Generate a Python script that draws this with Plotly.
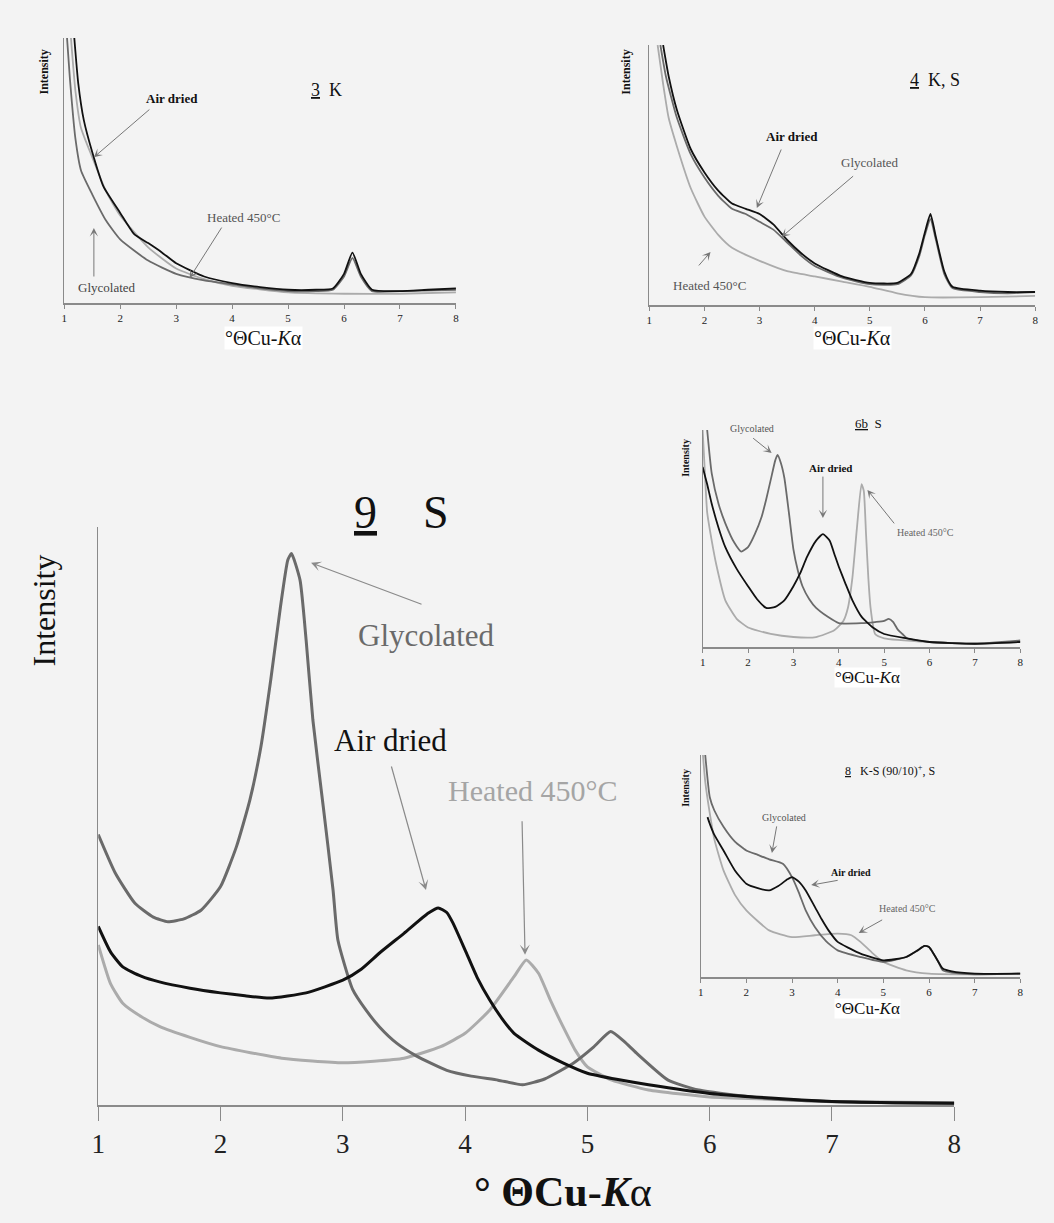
import plotly.graph_objects as go

# ---------------- data (x in degrees theta, y in relative intensity, 0-100 of axis height) ----------------
# Panel 3 (K)
p3_air_x = [1.18, 1.25, 1.35, 1.5, 1.7, 2.0, 2.25, 2.5, 2.75, 3.0, 3.5, 4.0, 4.5, 5.0, 5.5, 5.8, 6.0, 6.15, 6.3, 6.5, 7.0, 7.5, 8.0]
p3_air_y = [100, 83, 69, 57, 44, 34, 26, 22.6, 19, 15, 10, 7.5, 6, 5, 5, 5.5, 11, 19, 11, 5, 4.5, 5, 5.5]
p3_gly_x = [1.05, 1.1, 1.2, 1.3, 1.5, 1.75, 2.0, 2.5, 3.0, 3.5, 4.0, 4.5, 5.0, 5.5, 5.8, 6.0, 6.15, 6.3, 6.5, 7.0, 8.0]
p3_gly_y = [100, 85, 62, 50, 41, 31, 24, 16, 11, 8.5, 7, 5.5, 4.5, 4.5, 5, 10, 17, 10, 4.5, 4.5, 5]
p3_hea_x = [1.12, 1.2, 1.3, 1.5, 1.75, 2.0, 2.5, 3.0, 3.5, 4.0, 5.0, 6.0, 7.0, 8.0]
p3_hea_y = [100, 80, 66, 55, 42, 33, 21, 13, 9, 6.5, 4, 3.5, 3.5, 4]

# Panel 4 (K, S)
p4_air_x = [1.25, 1.35, 1.5, 1.75, 2.0, 2.25, 2.5, 2.75, 3.0, 3.25, 3.5, 3.75, 4.0, 4.5, 5.0, 5.5, 5.75, 5.9, 6.0, 6.1, 6.2, 6.35, 6.5, 7.0, 7.5, 8.0]
p4_air_y = [100, 88, 75, 60, 51, 44, 39, 37, 35, 31, 25, 20, 16, 11, 8.5, 8.5, 12, 20, 28, 35, 26, 13, 7, 5.5, 5, 5]
p4_gly_x = [1.2, 1.3, 1.5, 1.75, 2.0, 2.25, 2.5, 2.75, 3.0, 3.25, 3.5, 3.75, 4.0, 4.5, 5.0, 5.5, 5.75, 5.9, 6.0, 6.1, 6.2, 6.35, 6.5, 7.0, 7.5, 8.0]
p4_gly_y = [100, 88, 72, 58, 49, 42, 37, 35, 32, 29, 24, 19, 15, 10.5, 8, 8, 11.5, 19, 27, 33, 25, 12, 6.5, 5, 4.5, 5]
p4_hea_x = [1.15, 1.25, 1.35, 1.5, 1.75, 2.0, 2.25, 2.5, 3.0, 3.5, 4.0, 4.5, 5.0, 5.5, 6.0, 7.0, 8.0]
p4_hea_y = [100, 85, 72, 61, 45, 34, 27, 22, 17, 13, 11, 9, 7, 4.5, 3, 3, 3.5]

# Panel 6b (S)
p6_gly_x = [1.1, 1.2, 1.35, 1.5, 1.7, 1.85, 2.0, 2.15, 2.3, 2.4, 2.5, 2.6, 2.65, 2.72, 2.8, 2.9, 3.0, 3.1, 3.2, 3.35, 3.5, 3.75, 4.0, 4.5, 4.8, 5.0, 5.1, 5.2, 5.3, 5.4, 5.5, 6.0, 7.0, 8.0]
p6_gly_y = [100, 80, 66, 57, 48, 44, 46, 52, 60, 68, 77, 86, 88.5, 85, 78, 62, 45, 35, 28, 22, 18, 14, 11, 11, 11.5, 12, 13, 11.5, 8, 6, 4, 2.3, 1.5, 3]
p6_air_x = [1.0, 1.1, 1.2, 1.35, 1.5, 1.75, 2.0, 2.2, 2.4, 2.6, 2.8, 3.0, 3.15, 3.3, 3.5, 3.65, 3.8, 3.9, 4.0, 4.15, 4.3, 4.5, 4.75, 5.0, 5.5, 6.0, 7.0, 8.0]
p6_air_y = [83, 75, 66, 55, 46, 36, 28, 22, 18, 18.5, 21.5, 28, 34, 41.5, 49, 52, 49, 43, 37, 29, 21.5, 14, 9, 6, 4, 2.3, 1.5, 2.3]
p6_hea_x = [1.0, 1.05, 1.1, 1.2, 1.3, 1.5, 1.75, 2.0, 2.5, 3.0, 3.5, 3.9, 4.1, 4.2, 4.3, 4.4, 4.5, 4.55, 4.6, 4.65, 4.7, 4.8, 5.0, 6.0, 7.0, 8.0]
p6_hea_y = [100, 80, 62, 49, 38, 21.5, 13, 9, 6, 4.6, 4.6, 7.7, 12, 18, 32, 55, 75, 72, 52, 32, 18, 6, 4, 2.3, 1.5, 2.3]

# Panel 8 (K-S (90/10)+, S)
p8_air_x = [1.15, 1.2, 1.3, 1.5, 1.75, 2.0, 2.25, 2.5, 2.7, 2.9, 3.0, 3.15, 3.3, 3.5, 3.65, 3.8, 4.0, 4.25, 4.5, 5.0, 5.25, 5.5, 5.75, 5.9, 6.0, 6.1, 6.2, 6.3, 6.5, 7.0, 8.0]
p8_air_y = [72, 69, 64, 57, 48, 42, 40, 39, 41, 44, 45, 43, 39, 31.6, 26, 21, 15.8, 13, 10.5, 7.5, 8, 9, 12, 14, 13.5, 10.5, 7, 3.8, 2.5, 1.5, 1.5]
p8_gly_x = [1.1, 1.2, 1.3, 1.5, 1.75, 2.0, 2.25, 2.5, 2.8, 3.0, 3.15, 3.3, 3.5, 3.75, 4.0, 4.5, 5.0, 5.5, 5.75, 5.9, 6.0, 6.1, 6.2, 6.3, 6.5, 7.0, 8.0]
p8_gly_y = [100, 81, 75, 67.7, 61, 57, 55, 53, 51, 45, 38, 30, 22.5, 16, 12, 9, 6.8, 9, 12, 14, 13.5, 10.5, 7, 3, 2, 1.2, 1.5]
p8_hea_x = [1.05, 1.1, 1.2, 1.3, 1.5, 1.75, 2.0, 2.5, 3.0, 3.5, 4.0, 4.3, 4.5, 4.75, 5.0, 5.5, 6.0, 7.0, 8.0]
p8_hea_y = [100, 88, 73.7, 62, 48, 37, 30, 21, 18, 18.8, 19.5, 18.8, 15.8, 11, 6.8, 3, 1.5, 1.2, 1.5]

# Panel 9 (S)
p9_gly_x = [1.0, 1.14, 1.3, 1.45, 1.57, 1.7, 1.84, 2.0, 2.13, 2.24, 2.33, 2.41, 2.49, 2.55, 2.58, 2.65, 2.70, 2.755, 2.84, 2.92, 2.96, 3.08, 3.19, 3.3, 3.44, 3.6, 3.85, 4.05, 4.27, 4.47, 4.65, 4.89, 5.05, 5.19, 5.3, 5.4, 5.66, 5.91, 6.43, 6.95, 7.5, 8.0]
p9_gly_y = [46.8, 40.1, 34.9, 32.5, 31.7, 32.2, 33.7, 37.8, 44.7, 52.8, 62, 73.5, 86.2, 94.3, 95.4, 90.8, 80.4, 66.6, 51.6, 37.2, 28.5, 20, 16.4, 13.5, 10.7, 8.5, 6, 5, 4.3, 3.5, 4.5, 7.3, 10, 12.7, 11, 9, 4.3, 2.6, 1.2, 0.6, 0.4, 0.3]
p9_air_x = [1.0, 1.1, 1.2, 1.35, 1.5, 1.75, 2.0, 2.2, 2.4, 2.7, 3.0, 3.15, 3.3, 3.5, 3.7, 3.78, 3.85, 3.9, 4.0, 4.1, 4.2, 4.3, 4.4, 4.6, 4.8, 5.0, 5.25, 5.5, 6.0, 6.5, 7.0, 7.5, 8.0]
p9_air_y = [30.9, 26.5, 23.9, 22.3, 21.3, 20.2, 19.4, 18.9, 18.5, 19.4, 21.6, 23.5, 26.3, 29.7, 33.2, 34.1, 33.3, 31.5, 26.8, 22, 18.2, 15, 12.4, 9.5, 7.3, 5.5, 4.4, 3.5, 2, 1.2, 0.6, 0.4, 0.3]
p9_hea_x = [1.0, 1.1, 1.2, 1.35, 1.5, 1.75, 2.0, 2.5, 3.0, 3.5, 3.8, 4.0, 4.2, 4.4, 4.5, 4.6, 4.7, 4.8, 4.9, 5.0, 5.2, 5.5, 6.0, 6.5, 7.0, 8.0]
p9_hea_y = [27.7, 21, 17.6, 15.3, 13.6, 11.7, 10.1, 8.1, 7.3, 8.1, 10.1, 12.4, 16.4, 22.2, 25.1, 22.8, 18, 13.6, 9.5, 6.6, 4.3, 2.6, 1.4, 1, 0.6, 0.4]

tick_vals = [1, 2, 3, 4, 5, 6, 7, 8]
tick_text = ["1", "2", "3", "4", "5", "6", "7", "8"]

C_AIR = "#111111"
C_GLY = "#6a6a6a"
C_HEA = "#ababab"

W, H = 1054, 1223
SERIF = "Liberation Serif"

def px(x):
    return x / W

def py(y):
    return 1 - y / H

# panel pixel boxes: (left, right, top, bottom)
panels = {
    "3": (58, 455, 38, 303),
    "4": (651, 1042, 45, 305),
    "6": (705, 1027, 430, 647),
    "8": (703, 1027, 755, 977),
    "9": (92.5, 960, 527, 1105),
}
order = ["3", "4", "6", "8", "9"]

fig = go.Figure()

series = {
    "3": [(p3_hea_x, p3_hea_y, C_HEA), (p3_gly_x, p3_gly_y, C_GLY), (p3_air_x, p3_air_y, C_AIR)],
    "4": [(p4_hea_x, p4_hea_y, C_HEA), (p4_gly_x, p4_gly_y, C_GLY), (p4_air_x, p4_air_y, C_AIR)],
    "6": [(p6_hea_x, p6_hea_y, C_HEA), (p6_gly_x, p6_gly_y, C_GLY), (p6_air_x, p6_air_y, C_AIR)],
    "8": [(p8_hea_x, p8_hea_y, C_HEA), (p8_gly_x, p8_gly_y, C_GLY), (p8_air_x, p8_air_y, C_AIR)],
    "9": [(p9_hea_x, p9_hea_y, C_HEA), (p9_gly_x, p9_gly_y, C_GLY), (p9_air_x, p9_air_y, C_AIR)],
}

layout_axes = {}
for i, key in enumerate(order, start=1):
    l, r, t, b = panels[key]
    xa = "xaxis" if i == 1 else f"xaxis{i}"
    ya = "yaxis" if i == 1 else f"yaxis{i}"
    xr = "x" if i == 1 else f"x{i}"
    yr = "y" if i == 1 else f"y{i}"
    big = key == "9"
    lw = 3 if big else 1.8
    for sx, sy, col in series[key]:
        fig.add_trace(go.Scatter(x=sx, y=sy, mode="lines", xaxis=xr, yaxis=yr,
                                 line=dict(color=col, width=lw, shape="spline", smoothing=0.5),
                                 showlegend=False, hoverinfo="skip"))
    layout_axes[xa] = dict(domain=[px(l), px(r)], anchor=yr, range=[1, 8],
                           tickvals=tick_vals, ticktext=tick_text,
                           showline=True, linecolor="#8a8a8a", linewidth=2 if big else 1.5,
                           ticks="outside", ticklen=14 if big else 4, tickcolor="#8a8a8a",
                           tickwidth=1, showgrid=False, zeroline=False, fixedrange=True,
                           tickfont=dict(family=SERIF, size=27 if big else 11, color="#222"))
    layout_axes[ya] = dict(domain=[py(b), py(t)], anchor=xr, range=[0, 100],
                           showline=True, linecolor="#8a8a8a", linewidth=1,
                           showticklabels=False, ticks="", showgrid=False, zeroline=False,
                           fixedrange=True)

fig.update_layout(**layout_axes)

ann = []

def text(x, y, s, size, color="#111", angle=0, bg=None, bold=False):
    d = dict(x=px(x), y=py(y), xref="paper", yref="paper", text=("<b>%s</b>" % s) if bold else s,
             showarrow=False, xanchor="center", yanchor="middle", textangle=angle,
             font=dict(family=SERIF, size=size, color=color))
    if bg:
        d["bgcolor"] = bg
        d["borderpad"] = 0
    ann.append(d)

def arrow(idx, x, y, ax, ay, color="#777", width=1, head=3):
    xr = "x" if idx == 1 else f"x{idx}"
    yr = "y" if idx == 1 else f"y{idx}"
    ann.append(dict(x=x, y=y, xref=xr, yref=yr, ax=ax, ay=ay, axref="pixel", ayref="pixel",
                    text="", showarrow=True, arrowhead=head, arrowsize=1.4, arrowwidth=width,
                    arrowcolor=color))

# panel 3
text(37, 72, "Intensity", 12, angle=-90, bold=True)
text(324, 90, "<u>3</u>  K", 18)
text(167, 98, "Air dried", 13, bold=True)
text(240, 218, "Heated 450°C", 13, color="#555")
text(101, 287, "Glycolated", 13, color="#444")
text(260, 338, "°ΘCu-<i>K</i>α", 20, bg="white")
arrow(1, 1.53, 55, 57, -49)
arrow(1, 3.24, 9.4, 33, -52)
arrow(1, 1.53, 28.3, 0, 50)

# panel 4
text(627, 72, "Intensity", 12, angle=-90, bold=True)
text(940, 80, "<u>4</u>  K, S", 18)
text(796, 137, "Air dried", 13, bold=True)
text(875, 163, "Glycolated", 13, color="#555")
text(712, 285, "Heated 450°C", 13, color="#555")
text(857, 338, "°ΘCu-<i>K</i>α", 20, bg="white")
arrow(2, 2.95, 37.3, 25, -60)
arrow(2, 3.40, 26.2, 73, -62)
arrow(2, 2.11, 20.4, -13, 15)

# panel 6b
text(687, 458, "Intensity", 10, angle=-90, bold=True)
text(873, 423, "<u>6b</u>  S", 13)
text(755, 428, "Glycolated", 10, color="#555")
text(835, 468, "Air dried", 11, bold=True)
text(931, 532, "Heated 450°C", 10, color="#666")
text(872, 677, "°ΘCu-<i>K</i>α", 17, bg="white")
arrow(3, 2.52, 89.4, -20, -16)
arrow(3, 3.65, 59.4, 0, -43)
arrow(3, 4.63, 72.4, 28, 35)

# panel 8
text(687, 788, "Intensity", 10, angle=-90, bold=True)
text(895, 771, "<u>8</u>   K-S (90/10)<sup>+</sup>, S", 12)
text(787, 817, "Glycolated", 10, color="#555")
text(855, 872, "Air dried", 10, bold=True)
text(913, 908, "Heated 450°C", 10, color="#666")
text(872, 1008, "°ΘCu-<i>K</i>α", 17, bg="white")
arrow(4, 2.56, 55.9, 5, -28)
arrow(4, 3.42, 41.4, 28, -5)
arrow(4, 4.46, 19.8, 25, -14)

# panel 9
text(38, 610, "Intensity", 32, angle=-90)
text(400, 512, "<u>9</u>    S", 46)
text(425, 635, "Glycolated", 31, color="#6a6a6a")
text(389, 740, "Air dried", 31, color="#111")
text(533, 790, "Heated 450°C", 30, color="#a5a5a5")
text(563, 1192, "<b>° ΘCu-<i>K</i></b>α", 42)
arrow(5, 2.74, 93.8, 112, 42, color="#8a8a8a", width=1.2)
arrow(5, 3.68, 37.2, -35, -125, color="#8a8a8a", width=1.2)
arrow(5, 4.49, 26, -3, -135, color="#8a8a8a", width=1.2)

fig.update_layout(annotations=ann, width=W, height=H,
                  margin=dict(l=0, r=0, t=0, b=0),
                  paper_bgcolor="#f3f3f3", plot_bgcolor="rgba(0,0,0,0)",
                  showlegend=False)

fig.write_html("out.html", config={"displayModeBar": False})
